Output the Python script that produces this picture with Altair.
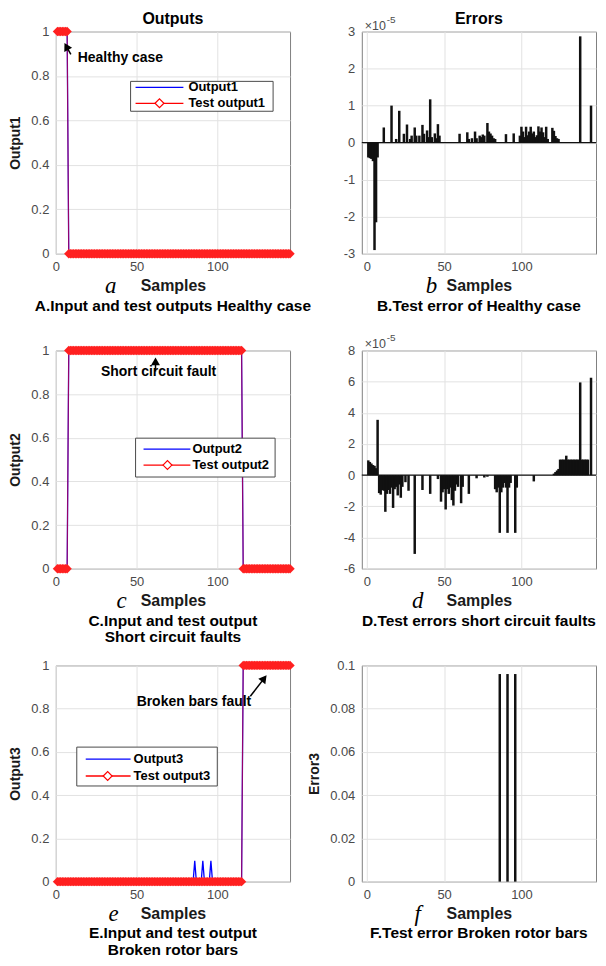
import altair as alt
import pandas as pd

# ---------------- data ----------------
samples = list(range(1, 146))

output1      = [1] * 7 + [0] * 138
test_output1 = [1] * 7 + [0] * 138
output2      = [0] * 7 + [1] * 108 + [0] * 30
test_output2 = [0] * 7 + [1] * 108 + [0] * 30
output3      = [0] * 85 + [0.096] + [0] * 4 + [0.096] + [0] * 4 + [0.096] + [0] * 19 + [1] * 30
test_output3 = [0] * 115 + [1] * 30

# test errors of the healthy case, in units of 1e-5
err1_samples = [1, 2, 3, 4, 5, 6, 7,
                11, 16, 19, 21, 24, 26, 28, 29, 31, 32, 34, 36, 37, 39, 40, 41, 42, 44, 45, 46, 47,
                60, 65, 66, 68, 70, 71, 73, 74, 75, 76, 78, 79, 80, 81, 82, 83,
                90, 95, 99, 100, 101, 102, 103, 104, 105, 106, 107, 108, 109, 110, 111, 112, 113,
                114, 115, 116, 117, 120, 121, 122, 123, 124,
                138, 145]
err1_values = [-0.40, -0.42, -0.44, -0.50, -2.90, -2.15, -0.40,
               0.41, 1.00, 0.10, 0.86, 0.24, 0.49, 0.10, 0.19, 0.41, 0.19, 0.19, 0.48, 0.24, 0.33, 0.15, 1.17, 0.15, 0.25, 0.12, 0.50, 0.19,
               0.24, 0.28, 0.10, 0.12, 0.30, 0.12, 0.19, 0.15, 0.22, 0.19, 0.53, 0.30, 0.25, 0.19, 0.12, 0.10,
               0.23, 0.25, 0.19, 0.43, 0.30, 0.15, 0.43, 0.20, 0.30, 0.43, 0.25, 0.30, 0.15, 0.20, 0.44, 0.30, 0.41,
               0.28, 0.15, 0.43, 0.10, 0.40, 0.32, 0.18, 0.12, 0.10,
               2.87, 1.00]

# test errors of the short circuit case, in units of 1e-5
err2_samples = [1, 2, 3, 4, 5, 6, 7,
                8, 9, 10, 11, 12, 13, 14, 15, 16, 17, 18, 19, 20, 21, 22, 23, 25, 27, 31, 36, 41,
                46, 48, 49, 50, 51, 52, 53, 54, 55, 56, 57, 58, 59, 61, 62, 66, 71, 76, 78,
                83, 84, 85, 86, 87, 88, 89, 90, 91, 92, 93, 96, 97,
                108,
                121, 122, 123, 124, 125, 126, 127, 128, 129, 130, 131, 132, 133, 134, 135, 136, 137,
                138, 139, 140, 141, 142, 143, 145]
err2_values = [0.95, 0.85, 0.75, 0.65, 0.60, 0.45, 3.55,
               -1.15, -1.25, -0.95, -1.00, -2.35, -1.20, -0.95, -1.20, -0.80, -2.10, -0.90, -0.75, -1.30, -0.60,
               -1.45, -0.75, -0.45, -1.00, -5.05, -0.95, -1.20,
               -0.25, -1.70, -1.10, -0.90, -2.20, -0.90, -1.20, -0.80, -1.60, -1.95, -1.00, -0.60, -0.75, -1.80,
               -0.75, -1.20, -0.20, -0.15, -0.10,
               -0.90, -1.10, -0.80, -3.70, -1.10, -0.80, -0.50, -0.80, -3.70, -0.80, -0.50, -3.70, -0.80,
               -0.40,
               0.10, 0.20, 0.30, 0.40, 1.00, 1.00, 1.00, 1.00, 1.25, 1.00, 1.00, 1.00, 1.00, 1.00, 1.00, 1.00, 1.00,
               5.95, 1.00, 1.00, 1.00, 1.00, 1.00, 6.25]

# test errors of the broken rotor bars case
err3_samples = [86, 91, 96]
err3_values = [0.096, 0.096, 0.096]

x_domain = [0, 145]
x_ticks = [0, 50, 100]
out_ticks = [0, 0.2, 0.4, 0.6, 0.8, 1]

FONT = "Liberation Sans"
SERIF = "Liberation Serif"
W = 235
one = pd.DataFrame({"k": [0]})


def Xq(field):
    return alt.X(f"{field}:Q", scale=alt.Scale(domain=x_domain, nice=False, zero=False),
                 axis=alt.Axis(values=x_ticks, title="Samples", labelExpr="'' + datum.value"))


def Yq(field, dom, ticks, title):
    return alt.Y(f"{field}:Q", scale=alt.Scale(domain=dom, nice=False),
                 axis=alt.Axis(values=ticks, title=title, labelExpr="'' + datum.value"))


def ptext(text, x, y, size=13, weight="bold", align="center", font=FONT, style="normal",
          color="black", baseline="middle"):
    return alt.Chart(one).mark_text(text=text, fontSize=size, fontWeight=weight, align=align,
                                    baseline=baseline, font=font, fontStyle=style, color=color
                                    ).encode(x=alt.value(x), y=alt.value(y))


def decorations(h, letter, lx, captions, title):
    layers = [ptext(letter, lx, h + 39, size=23, weight="normal", font=SERIF, style="italic",
                    baseline="alphabetic")]
    for i, c in enumerate(captions):
        layers.append(ptext(c, W / 2, h + 52 + 17 * i, size=15.5))
    if title:
        layers.append(ptext(title, W / 2, -13, size=16))
    return layers


def output_panel(out, test, ytitle, h, legend, arrow, note, letter, lx, captions, title=None):
    df = pd.DataFrame({"sample": samples, "out": out, "test": test})
    base = alt.Chart(df)
    X = Xq("sample")
    blue = base.mark_line(color="#0000ff", strokeWidth=1.3).encode(
        x=X, y=Yq("out", [0, 1], out_ticks, ytitle))
    red = base.mark_line(color="#ff0000", strokeWidth=1.1, opacity=0.6).encode(
        x=X, y=Yq("test", [0, 1], out_ticks, ytitle))
    pts = base.mark_point(shape="diamond", size=88, filled=True, color="#ff2020",
                          opacity=1).encode(x=X, y=Yq("test", [0, 1], out_ticks, ytitle))

    adf = pd.DataFrame({"sample": [arrow["tail"][0]], "value": [arrow["tail"][1]],
                        "sample2": [arrow["head"][0]], "value2": [arrow["head"][1]]})
    shaft = alt.Chart(adf).mark_rule(color="black", strokeWidth=1.5).encode(
        x=Xq("sample"), y=Yq("value", [0, 1], out_ticks, ytitle),
        x2="sample2:Q", y2="value2:Q")
    hdf = pd.DataFrame({"sample": [arrow["head"][0]], "value": [arrow["head"][1]]})
    head = alt.Chart(hdf).mark_point(shape="triangle-up", size=80, filled=True, color="black",
                                     opacity=1, angle=arrow["angle"]).encode(
        x=Xq("sample"), y=Yq("value", [0, 1], out_ticks, ytitle))
    ndf = pd.DataFrame({"sample": [note["pos"][0]], "value": [note["pos"][1]]})
    ntext = alt.Chart(ndf).mark_text(text=note["text"], fontSize=14, fontWeight="bold",
                                     align=note["align"], baseline="middle", color="black").encode(
        x=Xq("sample"), y=Yq("value", [0, 1], out_ticks, ytitle))

    bx0, bx1, by0, by1 = legend["box"]
    r1, r2 = legend["rows"]
    lx0, lx1 = legend["line"]
    box = alt.Chart(one).mark_rect(fill="white", stroke="#4a4a4a", strokeWidth=1).encode(
        x=alt.value(bx0), x2=alt.value(bx1), y=alt.value(by0), y2=alt.value(by1))
    l1 = alt.Chart(one).mark_rule(color="#0000ff", strokeWidth=1.3).encode(
        x=alt.value(lx0), x2=alt.value(lx1), y=alt.value(r1))
    l2 = alt.Chart(one).mark_rule(color="#ff0000", strokeWidth=1.3).encode(
        x=alt.value(lx0), x2=alt.value(lx1), y=alt.value(r2))
    dm = alt.Chart(one).mark_point(shape="diamond", size=80, filled=True, fill="white",
                                   stroke="#ff0000", strokeWidth=1.2, opacity=1).encode(
        x=alt.value(legend["dx"]), y=alt.value(r2))
    t1 = ptext(legend["labels"][0], legend["tx"], r1, align="left")
    t2 = ptext(legend["labels"][1], legend["tx"], r2, align="left")

    layers = [blue, red, pts, shaft, head, ntext, box, l1, l2, dm, t1, t2]
    layers += decorations(h, letter, lx, captions, title)
    return alt.layer(*layers).properties(width=W, height=h)


def error_panel(xs, vs, dom, ticks, h, ytitle, letter, lx, captions, title=None, exp=False):
    df = pd.DataFrame({"sample": xs, "value": vs})
    bars = alt.Chart(df).mark_bar(color="#111111", width=2.5).encode(
        x=Xq("sample"), y=Yq("value", dom, ticks, ytitle), y2=alt.datum(0))
    layers = [bars]
    if exp:
        zdf = pd.DataFrame({"value": [0]})
        layers.append(alt.Chart(zdf).mark_rule(color="#111111", strokeWidth=1.2).encode(
            y=Yq("value", dom, ticks, ytitle)))
        layers.append(ptext("\u00d710", 3, -6, size=12.5, weight="normal", align="left",
                            color="#4d4d4d"))
        layers.append(ptext("-5", 25, -12, size=10, weight="normal", align="left",
                            color="#4d4d4d"))
    layers += decorations(h, letter, lx, captions, title)
    return alt.layer(*layers).properties(width=W, height=h)


A = output_panel(output1, test_output1, "Output1", 223,
                 legend=dict(box=(75, 218, 50, 80), rows=(56, 72), line=(80, 128), dx=104, tx=133,
                             labels=("Output1", "Test output1")),
                 arrow=dict(tail=(9.3, 0.897), head=(6.5, 0.933), angle=331),
                 note=dict(pos=(13.6, 0.883), text="Healthy case", align="left"),
                 letter="a", lx=55, captions=["A.Input and test outputs Healthy case"],
                 title="Outputs")

B = error_panel(err1_samples, err1_values, [-3, 3], [-3, -2, -1, 0, 1, 2, 3], 223, None,
                letter="b", lx=70, captions=["B.Test error of Healthy case"], title="Errors",
                exp=True)

C = output_panel(output2, test_output2, "Output2", 219,
                 legend=dict(box=(80, 220, 88, 127), rows=(99, 115), line=(88, 135), dx=112, tx=137,
                             labels=("Output2", "Test output2")),
                 arrow=dict(tail=(61.7, 0.904), head=(61.7, 0.950), angle=0),
                 note=dict(pos=(63.6, 0.9), text="Short circuit fault", align="center"),
                 letter="c", lx=66,
                 captions=["C.Input and test output", "Short circuit faults"])

D = error_panel(err2_samples, err2_values, [-6, 8], [-6, -4, -2, 0, 2, 4, 6, 8], 219, None,
                letter="d", lx=56, captions=["D.Test errors short circuit faults"], exp=True)

E = output_panel(output3, test_output3, "Output3", 217,
                 legend=dict(box=(21, 162, 82, 121), rows=(94, 111), line=(30, 75), dx=52, tx=78,
                             labels=("Output3", "Test output3")),
                 arrow=dict(tail=(120.4, 0.857), head=(129.0, 0.940), angle=38),
                 note=dict(pos=(85.5, 0.83), text="Broken bars fault", align="center"),
                 letter="e", lx=58,
                 captions=["E.Input and test output", "Broken rotor bars"])

F = error_panel(err3_samples, err3_values, [0, 0.1], [0, 0.02, 0.04, 0.06, 0.08, 0.1], 217,
                "Error3", letter="f", lx=56, captions=["F.Test error Broken rotor bars"])

chart = alt.concat(A, B, C, D, E, F, columns=2, spacing={"row": 97, "column": 72},
                   bounds="flush").properties(
    padding={"left": 0, "top": 0, "right": 0, "bottom": 0}
).configure(font=FONT).configure_view(
    stroke="#808080", strokeWidth=1
).configure_axis(
    grid=True, gridColor="#e2e2e2", gridWidth=1, domain=False, ticks=False, tickSize=0,
    labelFont=FONT, labelFontSize=13, labelColor="#4a4a4a", labelPadding=7, labelFlush=False,
    titleFont=FONT, titleFontWeight="bold", titleColor="#1a1a1a"
).configure_axisX(titleFontSize=16, titlePadding=4).configure_axisY(titleFontSize=14, titlePadding=8)

chart.save("out.html", embed_options={"renderer": "svg", "actions": False})
